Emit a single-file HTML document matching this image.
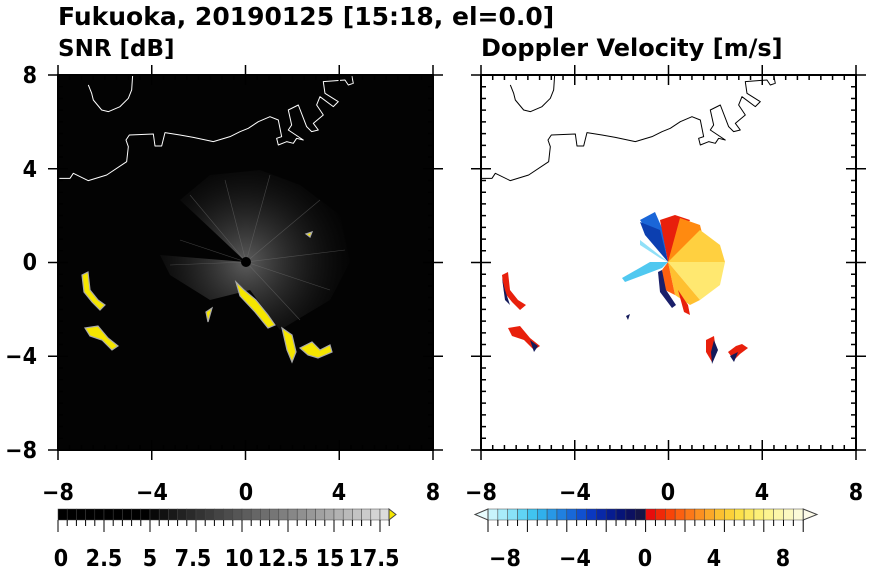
<!DOCTYPE html>
<html><head><meta charset="utf-8"><style>
html,body{margin:0;padding:0;background:#fff;width:870px;height:570px;overflow:hidden}
svg{display:block}
text{font-family:"DejaVu Sans Condensed","DejaVu Sans","Liberation Sans",sans-serif;font-weight:bold;fill:#000}
text.w{font-family:"DejaVu Sans","Liberation Sans",sans-serif}
</style></head><body>
<svg width="870" height="570" viewBox="0 0 870 570" xmlns="http://www.w3.org/2000/svg">
<defs>
<radialGradient id="fan" cx="246" cy="262" r="110" gradientUnits="userSpaceOnUse">
<stop offset="0" stop-color="#999" stop-opacity="0.6"/>
<stop offset="0.5" stop-color="#555" stop-opacity="0.35"/>
<stop offset="1" stop-color="#222" stop-opacity="0"/>
</radialGradient>
<g id="coast" fill="none" stroke-width="3" stroke-linejoin="round">
<polyline points="145,75 155,100 160,120 185,150 205,155 240,140 265,115 275,90 278,45"/>
<polyline points="58,355 90,355 100,340 145,362 200,345 260,305 265,260 258,240 268,225 340,222 345,258 365,258 375,218 420,225 460,232 520,245 570,230 600,215 625,205 655,185 690,170 715,180 725,230 710,235 715,255 740,245 760,250 770,235 790,240 745,210 755,195 745,150 775,135 800,200 815,215 835,210 820,190 850,165 830,135 840,110 880,140 895,125 855,100 850,65 915,60 925,75 940,70 935,45"/>
</g>
</defs>
<text class="w" x="58" y="25" font-size="25">Fukuoka, 20190125 [15:18, el=0.0]</text>
<text class="w" x="58" y="56" font-size="23">SNR [dB]</text>
<text class="w" x="481" y="56" font-size="24">Doppler Velocity [m/s]</text>

<rect x="58" y="75" width="375" height="375" fill="#030303"/>
<path d="M246,262 L180,200 L210,175 L260,170 L300,185 L340,215 L350,262 L330,300 L280,330 L250,290 L210,300 L170,275 L160,255 Z" fill="url(#fan)"/>
<g stroke="#777" stroke-width="0.6" opacity="0.5">
<line x1="246" y1="262" x2="190" y2="195"/><line x1="246" y1="262" x2="225" y2="180"/><line x1="246" y1="262" x2="270" y2="175"/>
<line x1="246" y1="262" x2="320" y2="200"/><line x1="246" y1="262" x2="345" y2="250"/><line x1="246" y1="262" x2="330" y2="290"/>
<line x1="246" y1="262" x2="170" y2="265"/><line x1="246" y1="262" x2="180" y2="240"/><line x1="246" y1="262" x2="300" y2="320"/>
</g>
<circle cx="246" cy="262" r="5" fill="#000"/>
<g fill="#f5e600" stroke="#aaa" stroke-width="1.2">
<path d="M82,275 L88,272 L90,290 L98,300 L105,305 L100,310 L92,302 L84,292 Z"/>
<path d="M85,328 L98,326 L108,338 L118,346 L112,350 L102,340 L90,336 Z"/>
<path d="M236,282 L244,290 L256,300 L268,315 L275,325 L268,328 L255,312 L240,296 Z"/>
<path d="M282,328 L292,335 L296,352 L292,362 L287,350 Z"/>
<path d="M300,348 L312,342 L320,350 L330,345 L332,352 L318,358 L308,355 Z"/>
<path d="M206,312 L212,308 L208,322 Z"/>
<path d="M306,234 L312,232 L310,237 Z"/>
</g>
<g transform="translate(40,60) scale(0.3333)" stroke="#fff"><use href="#coast"/></g>

<g>
<path d="M668,262 L640,220 L655,212 L662,228 Z" fill="#1a66d8"/>
<path d="M668,262 L645,235 L640,222 L660,230 Z" fill="#0c3fb0"/>
<path d="M668,262 L660,220 L675,215 L690,220 Z" fill="#e8200c"/>
<path d="M668,262 L680,218 L700,225 L705,245 Z" fill="#ff8a10"/>
<path d="M668,262 L700,230 L720,245 L725,262 Z" fill="#ffd040"/>
<path d="M668,262 L725,262 L720,285 L700,300 Z" fill="#ffe870"/>
<path d="M668,262 L700,300 L690,305 L675,295 Z" fill="#ffc030"/>
<path d="M668,262 L675,295 L665,290 L662,270 Z" fill="#ff6010"/>
<path d="M668,262 L662,268 L625,282 L622,278 L650,262 Z" fill="#50c8f0"/>
<path d="M668,262 L640,240 L640,245 L660,258 Z" fill="#90e0f8"/>
<path d="M662,270 L666,290 L676,305 L672,308 L660,292 L658,272 Z" fill="#1a1f6a"/>
</g>
<g>
<path d="M502,275 L508,272 L510,290 L518,300 L526,305 L520,310 L512,302 L504,292 Z" fill="#e8200c"/>
<path d="M502,278 L505,300 L510,305 L505,290 Z" fill="#141a5a"/>
<path d="M508,328 L520,326 L530,338 L540,346 L534,350 L524,340 L512,336 Z" fill="#e8200c"/>
<path d="M530,340 L538,346 L534,352 Z" fill="#141a5a"/>
<path d="M678,290 L688,305 L690,315 L684,312 Z" fill="#e8200c"/>
<path d="M706,340 L714,336 L716,352 L712,362 L706,352 Z" fill="#e8200c"/>
<path d="M714,340 L718,350 L712,364 L711,352 Z" fill="#141a5a"/>
<path d="M728,352 L736,346 L742,344 L748,348 L740,354 L734,360 Z" fill="#e8200c"/>
<path d="M730,356 L738,352 L734,362 Z" fill="#141a5a"/>
<path d="M626,316 L630,314 L628,320 Z" fill="#141a5a"/>
</g>
<g transform="translate(462,60) scale(0.3333)" stroke="#000"><use href="#coast"/></g>

<g stroke="#000" fill="none">
<rect x="58" y="75" width="375" height="375" stroke-width="2"/>
<rect x="481" y="75" width="375" height="375" stroke-width="2"/>
</g>
<path id="tk" d="" stroke="#000" stroke-width="1.5"/>
<script>
(function(){
var s=375/16,d="";
[58,481].forEach(function(x0){
 for(var i=0;i<=32;i++){
  var x=x0+i*s/2, maj=i%8==0, L=maj?10:5;
  d+="M"+x+",450v"+(maj?"10":"-"+L)+(maj?"M"+x+",450v-10":"");
  d+="M"+x+",75v"+(maj?"-10":L)+(maj?"M"+x+",75v10":"");
  var y=75+i*s/2;
  d+="M"+x0+","+y+"h"+(maj?"-10":L)+(maj?"M"+x0+","+y+"h10":"");
  d+="M"+(x0+375)+","+y+"h"+(maj?"10":"-"+L)+(maj?"M"+(x0+375)+","+y+"h-10":"");
 }
});
document.getElementById("tk").setAttribute("d",d);
})();
</script>
<g font-size="23" text-anchor="middle">
<text x="58" y="500">−8</text><text x="152" y="500">−4</text><text x="246" y="500">0</text><text x="339" y="500">4</text><text x="433" y="500">8</text>
<text x="481" y="500">−8</text><text x="575" y="500">−4</text><text x="668" y="500">0</text><text x="762" y="500">4</text><text x="856" y="500">8</text>
</g>
<g font-size="23" text-anchor="end">
<text x="37" y="83">8</text><text x="37" y="177">4</text><text x="37" y="270">0</text><text x="37" y="364">−4</text><text x="37" y="458">−8</text>
</g>

<g id="cb1"></g><g id="cb2"></g>
<script>
(function(){
var ns="http://www.w3.org/2000/svg";
function r(g,x,y,w,h,f){var e=document.createElementNS(ns,"rect");e.setAttribute("x",x);e.setAttribute("y",y);e.setAttribute("width",w);e.setAttribute("height",h);e.setAttribute("fill",f);e.setAttribute("stroke","#444");e.setAttribute("stroke-width","0.5");g.appendChild(e);}
var g1=document.getElementById("cb1"),w=9.2,x=58;
for(var i=0;i<36;i++){var v=i<10?0:Math.round((i-9)/26*220);var c="rgb("+v+","+v+","+v+")";r(g1,x+i*w,509,w,11,c);}
var p=document.createElementNS(ns,"path");p.setAttribute("d","M389,509 L396,514.5 L389,520 Z");p.setAttribute("fill","#f5e600");p.setAttribute("stroke","#444");g1.appendChild(p);
var g2=document.getElementById("cb2");
var cols=["#c8f4fc","#a8ecfa","#88e2f8","#60d4f4","#40c4f0","#30b0ec","#2898e6","#2080e0","#1868d8","#1050d0","#0a38c0","#0828a8","#061c90","#061478","#0c1060","#141448",
"#e80c0c","#f02808","#f84408","#fc6010","#fc7818","#fc9020","#fca828","#fcc030","#fcd038","#fce048","#fce860","#fcf078","#fcf490","#fcf6a8","#fcf8c0","#fcfad8"];
var w2=9.85,x2=488;
for(var j=0;j<32;j++)r(g2,x2+j*w2,509,w2,11,cols[j]);
var a=document.createElementNS(ns,"path");a.setAttribute("d","M488,509 L475,514.5 L488,520 Z");a.setAttribute("fill","#e8fcfe");a.setAttribute("stroke","#444");g2.appendChild(a);
var e2=x2+32*w2;
var b=document.createElementNS(ns,"path");b.setAttribute("d","M"+e2+",509 L817,514.5 L"+e2+",520 Z");b.setAttribute("fill","#fcfae8");b.setAttribute("stroke","#444");g2.appendChild(b);
var d="";
for(var k=0;k<=36;k++){var xx=58+k*w;d+="M"+xx+",520v"+(k%5==0?12:6);}
for(var k=0;k<=32;k++){var xx=488+k*w2;d+="M"+xx+",520v"+(k%4==0?12:6);}
var t=document.createElementNS(ns,"path");t.setAttribute("d",d);t.setAttribute("stroke","#000");t.setAttribute("stroke-width","1");document.querySelector("svg").appendChild(t);
})();
</script>
<g font-size="23" text-anchor="middle">
<text x="61" y="566">0</text><text x="104" y="566">2.5</text><text x="150" y="566">5</text><text x="193" y="566">7.5</text><text x="239" y="566">10</text><text x="283" y="566">12.5</text><text x="330" y="566">15</text><text x="374" y="566">17.5</text>
<text x="505" y="566">−8</text><text x="575" y="566">−4</text><text x="645" y="566">0</text><text x="714" y="566">4</text><text x="783" y="566">8</text>
</g>
</svg>
</body></html>
